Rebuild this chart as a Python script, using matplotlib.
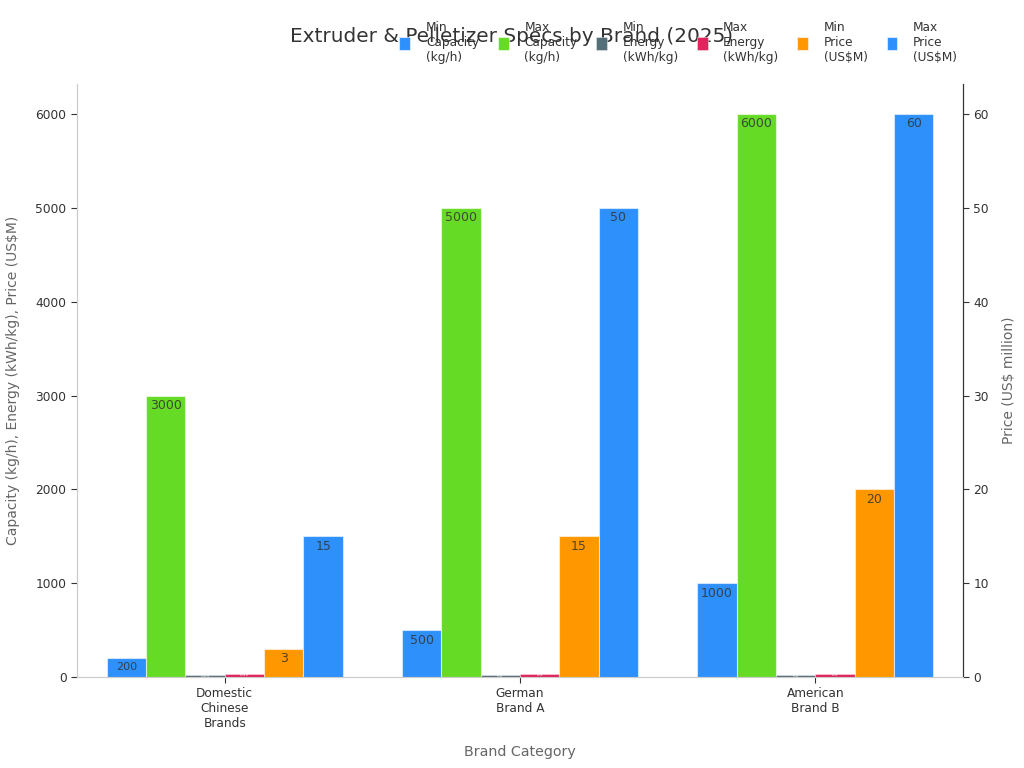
import numpy as np
import matplotlib
matplotlib.use("Agg")
import matplotlib.pyplot as plt

brands = ["Domestic\nChinese\nBrands", "German\nBrand A", "American\nBrand B"]
min_capacity = [200, 500, 1000]
max_capacity = [3000, 5000, 6000]
# energy is plotted x100 so that it shows on the capacity axis
min_energy = [0.25, 0.20, 0.20]
max_energy = [0.35, 0.30, 0.30]
min_price = [3, 15, 20]
max_price = [15, 50, 60]

blue = "#2E90FA"
green = "#66DB26"
slate = "#546E7A"
pink = "#E0245E"
orange = "#FF9800"
text_col = "#333333"
axis_col = "#666666"

x = np.arange(len(brands))
width = 0.8 / 6
edge = (1, 1, 1, 0.55)

fig, ax = plt.subplots(figsize=(10.24, 7.68), dpi=100)
ax2 = ax.twinx()


def add_bars(axis, values, offset, color, label, sizes):
    bars = axis.bar(x + offset * width, values, width, color=color, edgecolor=edge,
                    linewidth=0.8, label=label, zorder=3)
    for bar, val, size in zip(bars, values, sizes):
        axis.annotate(val, (bar.get_x() + bar.get_width() / 2, bar.get_height()),
                      xytext=(0, -2.5), textcoords="offset points", ha="center", va="top",
                      fontsize=size, color=text_col, alpha=0.85, zorder=4)
    return bars


add_bars(ax, min_capacity, -2.5, blue, "Min\nCapacity\n(kg/h)", [8, 9, 9])
add_bars(ax, max_capacity, -1.5, green, "Max\nCapacity\n(kg/h)", [9, 9, 9])
for i, (vals, off, col, lab) in enumerate([
        (min_energy, -0.5, slate, "Min\nEnergy\n(kWh/kg)"),
        (max_energy, 0.5, pink, "Max\nEnergy\n(kWh/kg)")]):
    bars = ax.bar(x + off * width, [v * 100 for v in vals], width, color=col, edgecolor=edge,
                  linewidth=0.5, label=lab, zorder=3)
    for bar, v in zip(bars, vals):
        ax.text(bar.get_x() + bar.get_width() / 2, bar.get_height() * 0.6, str(v),
                ha="center", va="center", fontsize=3, color="white", zorder=4)
add_bars(ax2, min_price, 1.5, orange, "Min\nPrice\n(US$M)", [9, 9, 9])
add_bars(ax2, max_price, 2.5, blue, "Max\nPrice\n(US$M)", [9, 9, 9])

ax.set_xlim(-0.5, 2.5)
ax.set_ylim(0, 6320)
ax2.set_ylim(0, 63.2)
ax.set_yticks(range(0, 7000, 1000))
ax2.set_yticks(range(0, 70, 10))
ax.set_xticks(x)
ax.set_xticklabels(brands, fontsize=8.7, color=text_col)
ax.tick_params(axis="y", labelsize=8.8, labelcolor=text_col, color=text_col, length=4)
ax2.tick_params(axis="y", labelsize=8.8, labelcolor=text_col, color=text_col, length=4)
ax.tick_params(axis="x", color=text_col, length=4)

ax.set_xlabel("Brand Category", fontsize=10.3, color=axis_col, labelpad=10.5)
ax.set_ylabel("Capacity (kg/h), Energy (kWh/kg), Price (US$M)", fontsize=10, color=axis_col, labelpad=11)
ax2.set_ylabel("Price (US$ million)", fontsize=10, color=axis_col, labelpad=9)

for a in (ax, ax2):
    a.spines["top"].set_visible(False)
    a.spines["left"].set_color("#cccccc")
    a.spines["bottom"].set_color("#cccccc")
    a.spines["right"].set_color(text_col)

fig.subplots_adjust(left=77 / 1024, right=963 / 1024, top=1 - 84 / 768, bottom=1 - 677 / 768)
fig.text(512 / 1024, 1 - 36 / 768, "Extruder & Pelletizer Specs by Brand (2025)",
         fontsize=14.4, color=text_col, ha="center", va="center")

h1, l1 = ax.get_legend_handles_labels()
h2, l2 = ax2.get_legend_handles_labels()
fig.legend(h1 + h2, l1 + l2, ncol=6, frameon=False, fontsize=8.7, loc="upper right",
           bbox_to_anchor=(968 / 1024, 1 - 10 / 768), handlelength=0.9, handleheight=1.3,
           handletextpad=1.3, columnspacing=1.55, labelcolor=text_col, labelspacing=0.5)

fig.savefig("out.png", dpi=100)
